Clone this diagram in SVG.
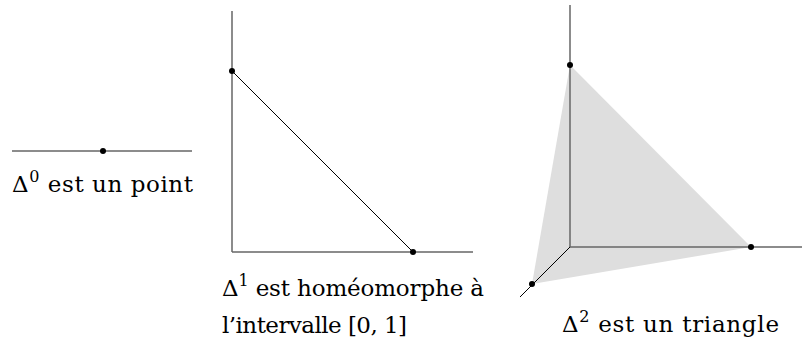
<svg xmlns="http://www.w3.org/2000/svg" width="802" height="347" viewBox="0 0 802 347">
<style>
.axis{stroke:#666;stroke-width:1.5;fill:none}
.seg{stroke:#000;stroke-width:1;fill:none}
.dot{fill:#000}
.lbl{font-family:"DejaVu Serif",serif;font-size:23px;fill:#000}
.sup{font-size:16px}
</style>
<rect width="802" height="347" fill="#fff"/>
<g id="delta0">
<line class="axis" x1="12" y1="151" x2="192" y2="151"/>
<circle class="dot" cx="103" cy="151" r="3"/>
<text class="lbl" x="12" y="192" textLength="181" lengthAdjust="spacing">Δ<tspan class="sup" dy="-10">0</tspan><tspan dy="10"> est un point</tspan></text>
</g>
<g id="delta1">
<line class="axis" x1="232" y1="11" x2="232" y2="252"/>
<line class="axis" x1="232" y1="252" x2="473" y2="252"/>
<line class="seg" x1="232" y1="71" x2="413" y2="252"/>
<circle class="dot" cx="232" cy="71" r="3"/>
<circle class="dot" cx="413" cy="252" r="3"/>
<text class="lbl" x="222" y="296" textLength="262" lengthAdjust="spacing">Δ<tspan class="sup" dy="-10">1</tspan><tspan dy="10"> est homéomorphe à</tspan></text>
<text class="lbl" x="222" y="333" textLength="185" lengthAdjust="spacing">l’intervalle [0, 1]</text>
</g>
<g id="delta2">
<polygon points="570,65 751,247 532,284" fill="#dedede"/>
<line class="axis" x1="570" y1="5" x2="570" y2="247"/>
<line class="axis" x1="570" y1="247" x2="802" y2="247"/>
<line class="seg" x1="570" y1="247" x2="520" y2="297"/>
<circle class="dot" cx="570" cy="65" r="3"/>
<circle class="dot" cx="751" cy="247" r="3"/>
<circle class="dot" cx="532" cy="284" r="3"/>
<text class="lbl" x="562" y="332" textLength="217" lengthAdjust="spacing">Δ<tspan class="sup" dy="-10">2</tspan><tspan dy="10"> est un triangle</tspan></text>
</g>
</svg>
